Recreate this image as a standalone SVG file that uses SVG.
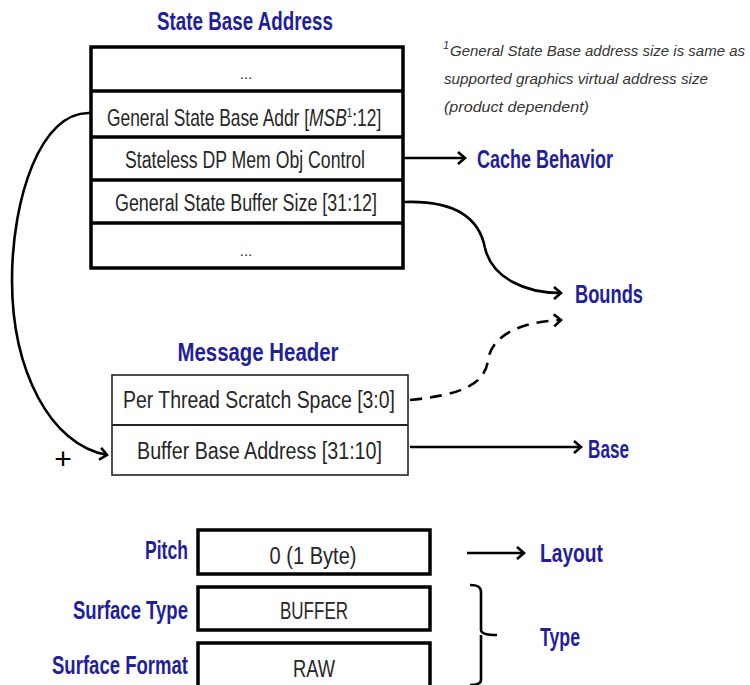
<svg xmlns="http://www.w3.org/2000/svg" width="750" height="685" viewBox="0 0 750 685">
<style>
.t{font-family:"Liberation Sans",Arial,sans-serif;font-size:23px;fill:#262626}
.b{font-family:"Liberation Sans",Arial,sans-serif;font-size:25px;font-weight:bold;fill:#1f1f9e}
.f{font-family:"Liberation Sans",Arial,sans-serif;font-size:15px;font-style:italic;fill:#333}
.d{font-family:"Liberation Sans",Arial,sans-serif;font-size:15px;fill:#262626}
.p{font-family:"Liberation Sans",Arial,sans-serif;font-size:30px;fill:#000}
.thick{fill:#fff;stroke:#000;stroke-width:3.5}
.thin{fill:#fff;stroke:#222;stroke-width:1.6}
.c{fill:none;stroke:#000;stroke-width:2.6}
</style>
<defs>
<marker id="ah" markerUnits="userSpaceOnUse" markerWidth="16" markerHeight="16" refX="9" refY="7" orient="auto">
<path d="M2,1 L9,7 L2,13" fill="none" stroke="#000" stroke-width="2.6" stroke-linejoin="miter"/>
</marker>
</defs>
<rect width="750" height="685" fill="#fff"/>

<g id="state-base-address">
<text class="b" x="245" y="30" text-anchor="middle" textLength="176" lengthAdjust="spacingAndGlyphs">State Base Address</text>
<rect class="thick" x="91" y="47" width="312" height="221"/>
<line x1="91" y1="91" x2="403" y2="91" stroke="#000" stroke-width="3.5"/>
<line x1="91" y1="137" x2="403" y2="137" stroke="#000" stroke-width="3.5"/>
<line x1="91" y1="180" x2="403" y2="180" stroke="#000" stroke-width="3.5"/>
<line x1="91" y1="223" x2="403" y2="223" stroke="#000" stroke-width="3.5"/>
<text class="d" x="246" y="79" text-anchor="middle">...</text>
<text class="t" transform="translate(107,126) scale(0.757,1)" x="0" y="0">General State Base Addr [<tspan style="font-style:italic">MSB</tspan><tspan style="font-size:13px" dy="-9">1</tspan><tspan dy="9">:12]</tspan></text>
<text class="t" x="125" y="168" textLength="240" lengthAdjust="spacingAndGlyphs">Stateless DP Mem Obj Control</text>
<text class="t" x="115" y="211" textLength="262" lengthAdjust="spacingAndGlyphs">General State Buffer Size [31:12]</text>
<text class="d" x="246" y="256" text-anchor="middle">...</text>
</g>

<g id="footnote">
<text class="f" x="443" y="49" style="font-size:11px">1</text>
<text class="f" x="450" y="56" textLength="295" lengthAdjust="spacingAndGlyphs">General State Base address size is same as</text>
<text class="f" x="444" y="84" textLength="264" lengthAdjust="spacingAndGlyphs">supported graphics virtual address size</text>
<text class="f" x="444" y="112" textLength="145" lengthAdjust="spacingAndGlyphs">(product dependent)</text>
</g>

<g id="cache-behavior">
<text class="b" x="477" y="168" textLength="136" lengthAdjust="spacingAndGlyphs">Cache Behavior</text>
</g>

<g id="bounds">
<text class="b" x="575" y="303" textLength="68" lengthAdjust="spacingAndGlyphs">Bounds</text>
</g>

<g id="base">
<text class="b" x="588" y="458" textLength="41" lengthAdjust="spacingAndGlyphs">Base</text>
</g>

<g id="message-header">
<text class="b" x="258" y="361" text-anchor="middle" textLength="161" lengthAdjust="spacingAndGlyphs">Message Header</text>
<rect class="thin" x="112" y="375" width="296" height="100"/>
<line x1="112" y1="425" x2="408" y2="425" stroke="#222" stroke-width="2.2"/>
<text class="t" x="123" y="408" textLength="272" lengthAdjust="spacingAndGlyphs">Per Thread Scratch Space [3:0]</text>
<text class="t" x="137" y="459" textLength="245" lengthAdjust="spacingAndGlyphs">Buffer Base Address [31:10]</text>
</g>

<g id="plus">
<text class="p" x="63" y="469" text-anchor="middle">+</text>
</g>

<g id="pitch">
<text class="b" x="188" y="559" text-anchor="end" textLength="43" lengthAdjust="spacingAndGlyphs">Pitch</text>
<rect class="thick" x="198" y="530" width="232" height="44"/>
<text class="t" x="313" y="564" text-anchor="middle" textLength="87" lengthAdjust="spacingAndGlyphs">0 (1 Byte)</text>
</g>

<g id="surface-type">
<text class="b" x="188" y="619" text-anchor="end" textLength="115" lengthAdjust="spacingAndGlyphs">Surface Type</text>
<rect class="thick" x="198" y="587" width="232" height="43"/>
<text class="t" x="314" y="619" text-anchor="middle" textLength="68" lengthAdjust="spacingAndGlyphs">BUFFER</text>
</g>

<g id="surface-format">
<text class="b" x="188" y="674" text-anchor="end" textLength="136" lengthAdjust="spacingAndGlyphs">Surface Format</text>
<rect class="thick" x="198" y="643" width="232" height="60"/>
<text class="t" x="314" y="677" text-anchor="middle" textLength="42" lengthAdjust="spacingAndGlyphs">RAW</text>
</g>

<g id="layout">
<text class="b" x="540" y="562" textLength="63" lengthAdjust="spacingAndGlyphs">Layout</text>
</g>

<g id="type">
<text class="b" x="540" y="646" textLength="40" lengthAdjust="spacingAndGlyphs">Type</text>
</g>

<g id="connectors">
<path class="c" d="M91,113 C40,110 12,200 12,280 C12,370 50,445 107,455" marker-end="url(#ah)"/>
<path class="c" d="M404,158 L465,158" marker-end="url(#ah)"/>
<path class="c" d="M404,202 C460,200 480,222 485,248 C492,278 525,293 561,293" marker-end="url(#ah)"/>
<path class="c" d="M410,400 C460,395 485,385 488,360 C492,335 520,322 561,320" stroke-dasharray="12,8" marker-end="url(#ah)"/>
<path class="c" d="M410,447 L581,447" marker-end="url(#ah)"/>
<path class="c" d="M467,553 L524,553" marker-end="url(#ah)"/>
<path class="c" d="M470,585 C478,585 481,587 481,592 L481,630 C481,634 488,635 497,635 M481,635 L481,680 C481,683 478,685 470,685"/>
</g>
</svg>
